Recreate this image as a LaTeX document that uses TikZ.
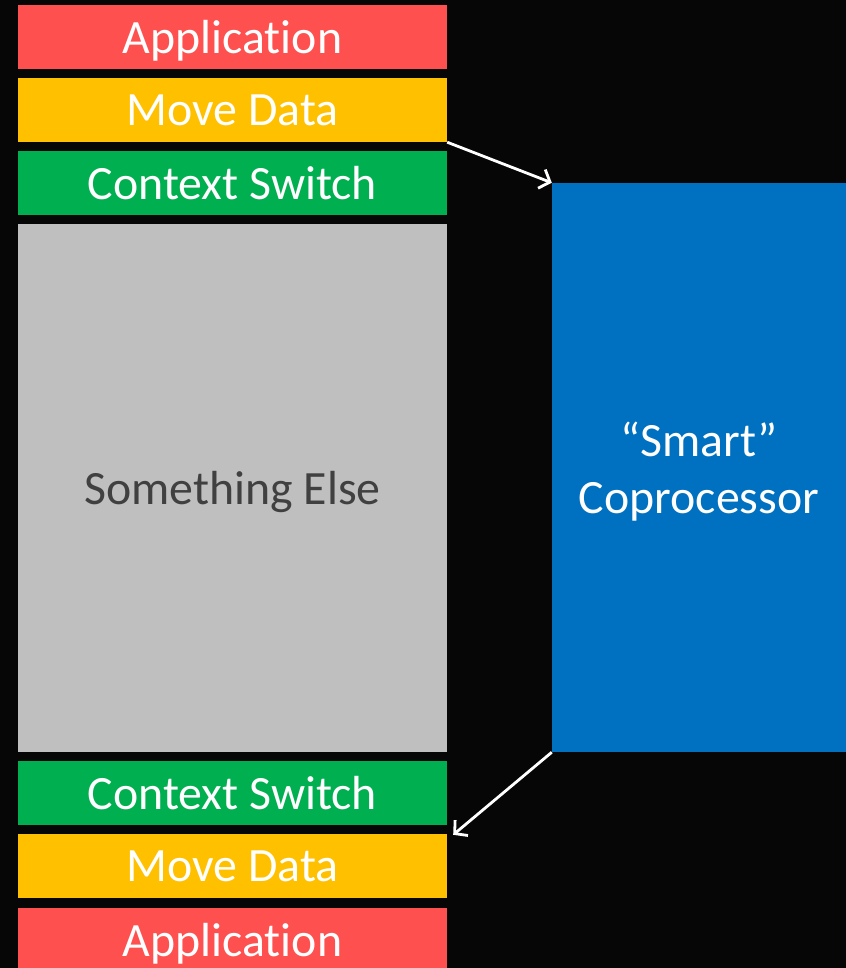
\documentclass[tikz,border=0pt]{standalone}
\usepackage{fontspec}
\setmainfont{Carlito}[Ligatures=NoCommon]
\usetikzlibrary{arrows.meta}
\definecolor{bg}{HTML}{060606}
\definecolor{appred}{HTML}{FF5050}
\definecolor{movey}{HTML}{FFC000}
\definecolor{ctxg}{HTML}{00B050}
\definecolor{elseg}{HTML}{BFBFBF}
\definecolor{elsetxt}{HTML}{404040}
\definecolor{copb}{HTML}{0070C0}
\tikzset{
  layer/.style={minimum width=429bp, inner sep=0pt, anchor=center,
    text=white, text depth=0pt, font=\fontsize{48}{57}\selectfont},
  thin/.style={layer, minimum height=64bp},
  flow/.style={draw=white, line width=2.8bp,
    -{Straight Barb[length=9bp,width=20bp,line width=2.8bp]}}
}
\begin{document}
\begin{tikzpicture}[x=1bp,y=-1bp]
  \fill[bg] (0,0) rectangle (846,968);
  \useasboundingbox (0,0) rectangle (846,968);

  % processor timeline, top half
  \node[thin, fill=appred] (app1) at (232.5,37) {Application};
  \node[thin, fill=movey] (md1) at (232.5,110) {Move Data};
  \node[thin, fill=ctxg] (cs1) at (232.5,183) {Context Switch};
  \node[layer, fill=elseg, minimum height=528bp, text=elsetxt] (else) at (232.5,488) {Something Else};
  % processor timeline, bottom half
  \node[thin, fill=ctxg] (cs2) at (232.5,793) {Context Switch};
  \node[thin, fill=movey] (md2) at (232.5,866) {Move Data};
  \node[thin, fill=appred] (app2) at (232.5,940) {Application};

  % offload engine
  \node[fill=copb, minimum width=294bp, minimum height=569bp, inner sep=0pt,
    text=white, align=center, text depth=0pt,
    font=\fontsize{48}{57}\selectfont] (cop) at (699,467.5)
    {“Smart”\\Coprocessor};

  \draw[flow] (md1.south east) -- (cop.north west);
  \draw[flow] (cop.south west) -- ([xshift=6bp,yshift=-1bp]md2.north east);
\end{tikzpicture}
\end{document}
